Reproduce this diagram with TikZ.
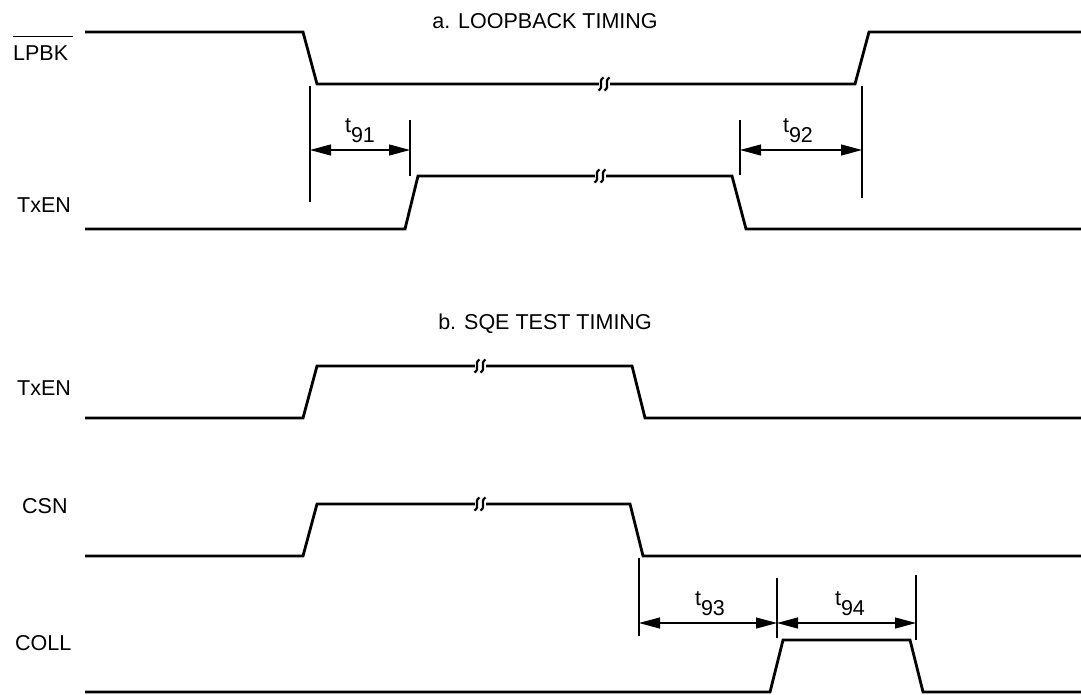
\documentclass[tikz,border=0pt]{standalone}
\usepackage{fontspec}
\setmainfont{Liberation Sans}
\usetikzlibrary{arrows.meta}
\newcommand\tlab[1]{t\raisebox{-10pt}{#1}}
\begin{document}
\begin{tikzpicture}[x=1pt,y=-1pt,
  sig/.style={line width=2.8pt, line join=miter},
  ext/.style={line width=1.3pt},
  dimline/.style={line width=1.1pt, {Triangle[length=21pt,width=11pt]}-{Triangle[length=21pt,width=11pt]}},
  lbl/.style={font=\fontsize{21.5}{24}\selectfont, inner sep=0pt, anchor=base west},
  ttl/.style={font=\fontsize{21.5}{24}\selectfont, inner sep=0pt, anchor=base},
  tl/.style={font=\fontsize{21.5}{24}\selectfont, inner sep=0pt, anchor=base},
  brk/.pic={
    \fill[white] (-5.5,-3) rectangle (5.5,3);
    \draw[line width=2.2pt] (-0.5,-6.5) .. controls (-6.5,-3) and (0.5,3) .. (-5.5,6.5);
    \draw[line width=2.2pt] (5.5,-6.5) .. controls (-0.5,-3) and (6.5,3) .. (0.5,6.5);
  }]
\useasboundingbox (0,0) rectangle (1081,694);

% titles
\node[ttl] (ta) at (545,28) {a. LOOPBACK TIMING};
\node[ttl] (tb) at (545,329) {b. SQE TEST TIMING};

% signal names
\node[lbl] (nlpbk) at (13,60) {LPBK};
\draw[line width=1pt] ([yshift=8.5pt]nlpbk.north west) -- ([yshift=8.5pt,xshift=5pt]nlpbk.north east);
\node[lbl] (ntxa) at (17,212) {TxEN};
\node[lbl] (ntxb) at (17,395) {TxEN};
\node[lbl] (ncsn) at (22,513) {CSN};
\node[lbl] (ncoll) at (15,650) {COLL};

% ---- a. loopback ----
\coordinate (l0) at (85,32);
\coordinate (l1) at (303,32);
\coordinate (l2) at (317,84);
\coordinate (l3) at (855,84);
\coordinate (l4) at (869,32);
\coordinate (l5) at (1081,32);
\draw[sig] (l0) -- (l1) -- (l2) -- (l3) -- (l4) -- (l5);
\pic at (604,84) {brk};

\coordinate (a0) at (85,229);
\coordinate (a1) at (405,229);
\coordinate (a2) at (418,176);
\coordinate (a3) at (732,176);
\coordinate (a4) at (746,229);
\coordinate (a5) at (1081,229);
\draw[sig] (a0) -- (a1) -- (a2) -- (a3) -- (a4) -- (a5);
\pic at (600,176) {brk};

\coordinate (e1t) at (310,86);   \coordinate (e1b) at (310,202);
\coordinate (e2t) at (410,120);  \coordinate (e2b) at (410,176);
\coordinate (e3t) at (740,120);  \coordinate (e3b) at (740,175);
\coordinate (e4t) at (862,86);   \coordinate (e4b) at (862,198);
\draw[ext] (e1t) -- (e1b);
\draw[ext] (e2t) -- (e2b);
\draw[ext] (e3t) -- (e3b);
\draw[ext] (e4t) -- (e4b);
\coordinate (d1a) at (310,150); \coordinate (d1b) at (410,150);
\coordinate (d2a) at (740,150); \coordinate (d2b) at (862,150);
\draw[dimline] (d1a) -- (d1b);
\draw[dimline] (d2a) -- (d2b);
\node[tl] (t91) at (360,132) {\tlab{91}};
\node[tl] (t92) at (798,132) {\tlab{92}};

% ---- b. SQE test ----
\coordinate (b0) at (85,418);
\coordinate (b1) at (303,418);
\coordinate (b2) at (317,366);
\coordinate (b3) at (632,366);
\coordinate (b4) at (645,418);
\coordinate (b5) at (1081,418);
\draw[sig] (b0) -- (b1) -- (b2) -- (b3) -- (b4) -- (b5);
\pic at (480,366) {brk};

\coordinate (c0) at (85,556);
\coordinate (c1) at (303,556);
\coordinate (c2) at (317,504);
\coordinate (c3) at (630,504);
\coordinate (c4) at (643,556);
\coordinate (c5) at (1081,556);
\draw[sig] (c0) -- (c1) -- (c2) -- (c3) -- (c4) -- (c5);
\pic at (480,504) {brk};

\coordinate (k0) at (85,692);
\coordinate (k1) at (770,692);
\coordinate (k2) at (783,640);
\coordinate (k3) at (910,640);
\coordinate (k4) at (923,692);
\coordinate (k5) at (1081,692);
\draw[sig] (k0) -- (k1) -- (k2) -- (k3) -- (k4) -- (k5);

\coordinate (f1t) at (639,558);  \coordinate (f1b) at (639,636);
\coordinate (f2t) at (777,578);  \coordinate (f2b) at (777,638);
\coordinate (f3t) at (916,575);  \coordinate (f3b) at (916,640);
\draw[ext] (f1t) -- (f1b);
\draw[ext] (f2t) -- (f2b);
\draw[ext] (f3t) -- (f3b);
\coordinate (g1a) at (639,623); \coordinate (g1b) at (777,623);
\coordinate (g2a) at (777,623); \coordinate (g2b) at (916,623);
\draw[dimline] (g1a) -- (g1b);
\draw[dimline] (g2a) -- (g2b);
\node[tl] (t93) at (710,605) {\tlab{93}};
\node[tl] (t94) at (850,605) {\tlab{94}};
\end{tikzpicture}
\end{document}
